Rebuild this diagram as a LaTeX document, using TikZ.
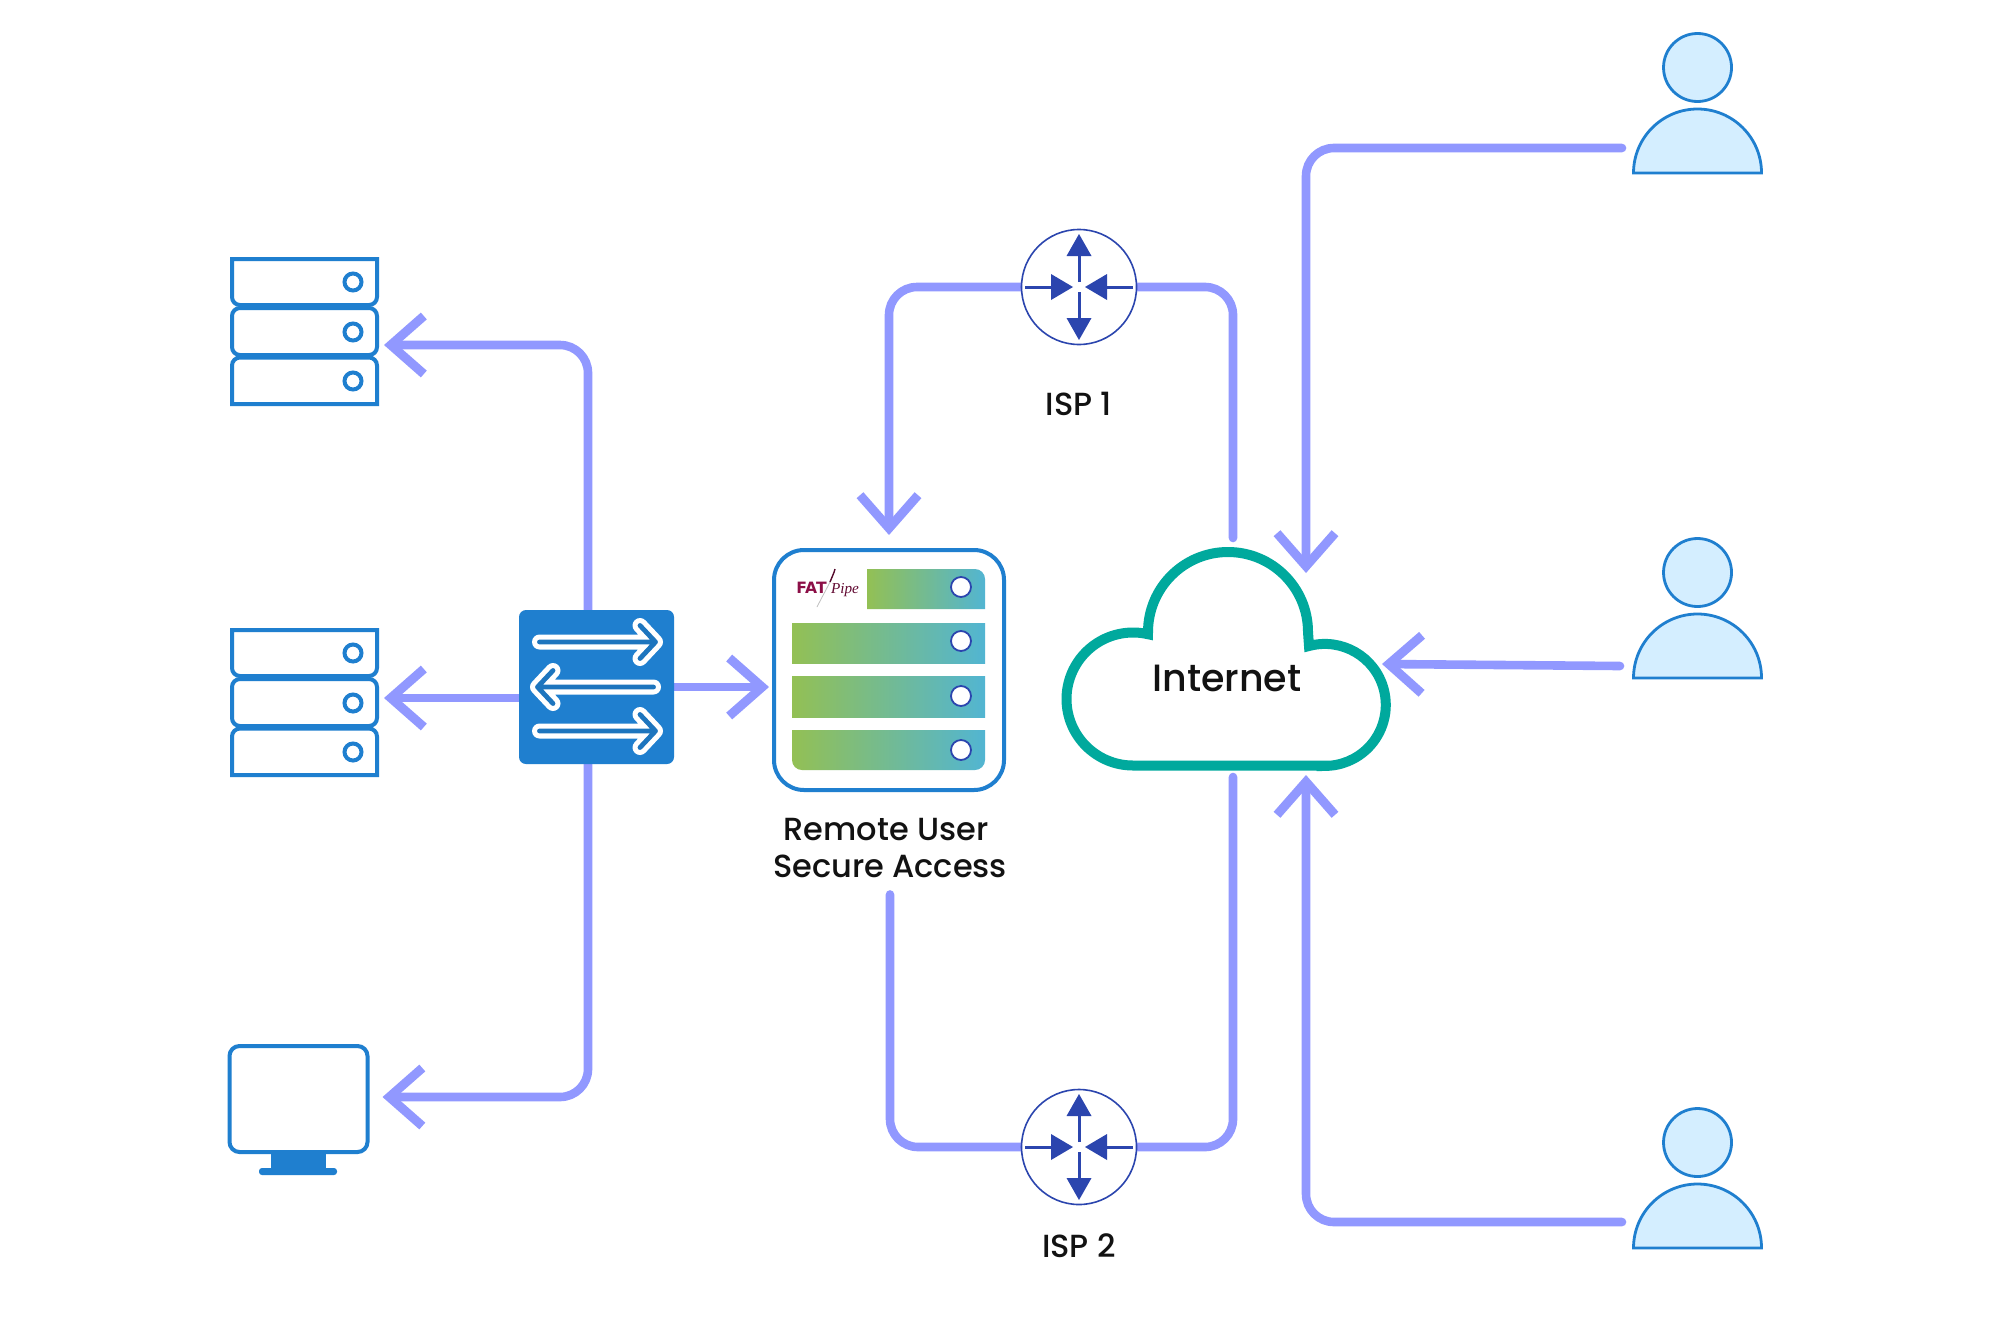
\documentclass[tikz,border=0pt]{standalone}
\usepackage{fontspec}
\usepackage{tikz}
\usetikzlibrary{arrows.meta,backgrounds}

\newfontfamily\labelfont{Poppins Medium}
\newfontfamily\fatfont{DejaVu Sans}
\setmainfont{Liberation Serif}

\definecolor{linkblue}{HTML}{9198FF}
\definecolor{iconblue}{HTML}{1F7FCF}
\definecolor{cloudteal}{HTML}{00A99D}
\definecolor{routerblue}{HTML}{2B45AE}
\definecolor{userfill}{HTML}{D4EEFF}
\definecolor{barleft}{HTML}{93C054}
\definecolor{barright}{HTML}{52B5D2}
\definecolor{fatred}{HTML}{8C0F47}

\tikzset{
  link/.style={draw=linkblue,line width=4.3pt,line cap=round,rounded corners=14pt},
  linkarrow/.style={link,-{Straight Barb[length=16.5pt,width=29pt,line width=4.5pt]}},
  iconpen/.style={draw=iconblue,line width=2pt},
  body/.style={inner sep=0pt,outer sep=0pt},
  routerbody/.style={body,circle,draw=routerblue,line width=0.8pt,fill=white,minimum size=57.5pt},
  userpen/.style={draw=iconblue,line width=1.4pt,fill=userfill},
  caption/.style={inner sep=0pt,font=\labelfont\fontsize{16pt}{18.8pt}\selectfont,text=black!93},
  barfill/.style={left color=barleft,right color=barright},
  led/.style={draw=routerblue,line width=0.9pt,fill=white},
  rackrows/.pic={
    \draw[iconpen] (-72.5,-72.5) -- (72.5,-72.5) [rounded corners=4pt] -- (72.5,-26.5) -- (-72.5,-26.5) [sharp corners] -- (-72.5,-72.5) -- cycle;
    \draw[iconpen,rounded corners=4pt] (-72.5,-23.5) rectangle (72.5,23.5);
    \draw[iconpen] (-72.5,72.5) -- (72.5,72.5) [rounded corners=4pt] -- (72.5,26) -- (-72.5,26) [sharp corners] -- (-72.5,72.5) -- cycle;
    \foreach \y in {-49.5,0.5,49.5}
      \draw[iconpen] (48.5,\y) circle (8.5);
  },
  routerarrows/.pic={
    \draw[routerblue,line width=1.5pt] (0,-5) -- (0,-31) (0,5) -- (0,31) (-54,0) -- (-28,0) (54,0) -- (28,0);
    \fill[routerblue] (0,-53) -- (-12.5,-31) -- (12.5,-31) -- cycle;
    \fill[routerblue] (0,53) -- (-12.5,31) -- (12.5,31) -- cycle;
    \fill[routerblue] (-6,0) -- (-28,-13) -- (-28,13) -- cycle;
    \fill[routerblue] (6,0) -- (28,-13) -- (28,13) -- cycle;
  },
  userparts/.pic={
    \draw[userpen] (0,-35) circle (34);
    \draw[userpen] (-64,70.5) arc[start angle=180,end angle=360,radius=64] -- cycle;
  },
  switcharrow/.pic={
    \draw[white,line width=7.5pt,line cap=round,line join=round] (-57,0) -- (59,0) (43.5,-16.5) -- (59,0) -- (43.5,16.5);
    \draw[iconblue!92!black,line width=2.4pt,line cap=round,line join=round] (-57,0) -- (59,0) (43.5,-16.5) -- (59,0) -- (43.5,16.5);
  },
}

\begin{document}
\begin{tikzpicture}[x=0.5pt,y=-0.5pt]
  \useasboundingbox (0,0) rectangle (2000,1333);

  % servers and the monitor
  \node[body,minimum width=72.5pt,minimum height=72.5pt] (rackone) at (304.5,331.5) {};
  \pic at (rackone) {rackrows};
  \node[body,minimum width=72.5pt,minimum height=72.5pt] (racktwo) at (304.5,702.5) {};
  \pic at (racktwo) {rackrows};
  \node[body,iconpen,rounded corners=5pt,minimum width=69pt,minimum height=53pt] (monitor) at (298.5,1099) {};
  \fill[iconblue] (271,1154) rectangle (326,1170);
  \fill[iconblue,rounded corners=1.5pt] (259,1168) rectangle (337,1175);

  % switch
  \node[body,fill=iconblue,rounded corners=3.5pt,minimum width=77.5pt,minimum height=77pt] (switch) at (596.5,687) {};
  \pic at (596.5,642) {switcharrow};
  \pic[xscale=-1] at (596.5,687) {switcharrow};
  \pic at (596.5,731) {switcharrow};

  % access appliance
  \node[body,iconpen,fill=white,rounded corners=15pt,minimum width=115pt,minimum height=120pt] (appliance) at (889,670) {};
  \shade[barfill] (867,569) -- (867,609) -- (985,609) [rounded corners=5pt] -- (985,569) [sharp corners] -- (867,569) -- cycle;
  \shade[barfill] (792,623) rectangle (985,663);
  \shade[barfill] (792,676) rectangle (985,717);
  \shade[barfill] (792,730) [rounded corners=5pt] -- (792,770) -- (985,770) [sharp corners] -- (985,730) -- cycle;
  \foreach \y in {587,641,696,750}
    \draw[led] (961,\y) circle (10);
  \draw[black!25,line width=0.4pt] (817,607) .. controls (822,597) and (826,590) .. (830,582);
  \draw[fatred!60!black,line width=0.7pt] (830,582) .. controls (832,577) and (834,573) .. (835,569);
  \node[inner sep=0pt,text=fatred,font=\fatfont\bfseries\fontsize{7.8pt}{8pt}\selectfont] (fatword) at (811.5,588) {FAT};
  \node[inner sep=0pt,text=fatred!70!black,font=\itshape\fontsize{7.6pt}{8pt}\selectfont] (pipeword) at (845,590) {Pipe};
  \node[caption,align=center] (access) at (890,848) {Remote User\hspace*{4pt}\\Secure Access};

  % routers
  \node[routerbody] (ispone) at (1079,287) {};
  \pic at (ispone) {routerarrows};
  \node[caption] (isponelabel) at (1079,404) {ISP 1};
  \node[routerbody] (isptwo) at (1079,1147) {};
  \pic at (isptwo) {routerarrows};
  \node[caption] (isptwolabel) at (1079,1246) {ISP 2};

  % cloud outline and its label
  \node[body,minimum width=165pt,minimum height=112pt] (cloud) at (1227,658) {};
  \draw[draw=cloudteal,line width=5pt] (1325,765.5) -- (1133,765.5)
    arc[start angle=90,end angle=283,radius=66.5]
    -- (1148,632) arc[start angle=180,end angle=360,radius=80]
    -- (1309,646) arc[start angle=255,end angle=450,radius=61] -- cycle;
  \node[caption,font=\labelfont\fontsize{19pt}{22pt}\selectfont] (internet) at (1227,678) {Internet};

  % remote users
  \node[body,minimum width=64.5pt,minimum height=70.5pt] (userone) at (1697.5,102.5) {};
  \pic at (userone) {userparts};
  \node[body,minimum width=64.5pt,minimum height=70.5pt] (usertwo) at (1697.5,607.5) {};
  \pic at (usertwo) {userparts};
  \node[body,minimum width=64.5pt,minimum height=70.5pt] (userthree) at (1697.5,1177.5) {};
  \pic at (userthree) {userparts};

  % connectors go under the icons
  \begin{scope}[on background layer]
    \fill[white] (0,0) rectangle (2000,1333);
    \draw[linkarrow] ([xshift=-4.25pt]switch.north) |- ([xshift=3.5pt,yshift=-6.75pt]rackone.east);
    \draw[linkarrow] ([yshift=-5.5pt]switch.west) -- ([xshift=3.5pt,yshift=2.25pt]racktwo.east);
    \draw[linkarrow] ([xshift=-4.25pt]switch.south) |- ([xshift=7.5pt,yshift=1pt]monitor.east);
    \draw[linkarrow] (switch.east) -- ([xshift=-2.5pt,yshift=-8.5pt]appliance.west);
    \draw[linkarrow] (ispone.west) -| ([yshift=7.5pt]appliance.north);
    \draw[link] (ispone.east) -| ([xshift=3pt,yshift=4pt]cloud.north);
    \draw[link] ([yshift=-8pt]access.south) |- (isptwo.west);
    \draw[link] (isptwo.east) -| ([xshift=3pt,yshift=-3.5pt]cloud.south);
    \draw[linkarrow] ([xshift=-5.5pt,yshift=-22.75pt]userone.west) -| ([xshift=39.5pt,yshift=-13.5pt]cloud.north);
    \draw[linkarrow] ([xshift=-6.5pt,yshift=-29.25pt]usertwo.west) -- ([xshift=-5pt,yshift=-3pt]cloud.east);
    \draw[linkarrow] ([xshift=-5.5pt,yshift=-22.25pt]userthree.west) -| ([xshift=39.5pt,yshift=-2.5pt]cloud.south);
  \end{scope}
\end{tikzpicture}
\end{document}
